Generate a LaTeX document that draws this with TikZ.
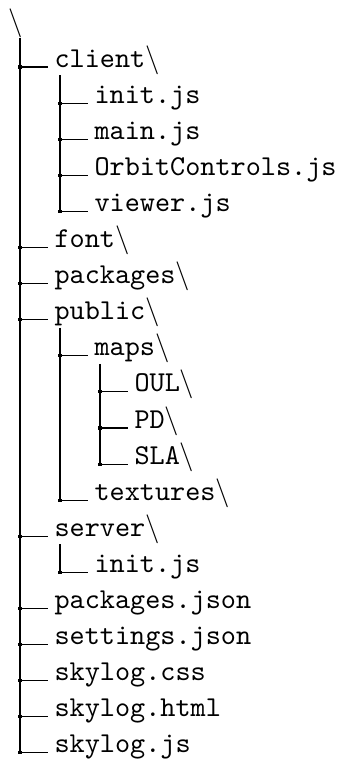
\documentclass[tikz,border=0pt]{standalone}
\usetikzlibrary{calc}
\begin{document}
% one unit = one pixel of the 341 x 762 layout grid (y grows downwards)
\begin{tikzpicture}[x=0.3472pt,y=-0.3472pt,
  entry/.style={anchor=base west,inner sep=0pt,font=\ttfamily},
  junction/.style={rectangle,fill=black,inner sep=0pt,minimum size=1.1pt},
  branch/.style={draw=black,line width=0.4pt}]
  \useasboundingbox (0,0) rectangle (341,762);

  % root folder
  \node[inner sep=0pt,anchor=base west] (root) at (8,30) {$\backslash$};

  % entries: name / depth / row / label
  \foreach \n/\l/\r/\t in {
      client/0/0/{client$\backslash$},
      cinit/1/1/{init.js},
      cmain/1/2/{main.js},
      corbit/1/3/{OrbitControls.js},
      cviewer/1/4/{viewer.js},
      font/0/5/{font$\backslash$},
      packages/0/6/{packages$\backslash$},
      public/0/7/{public$\backslash$},
      maps/1/8/{maps$\backslash$},
      oul/2/9/{OUL$\backslash$},
      pd/2/10/{PD$\backslash$},
      sla/2/11/{SLA$\backslash$},
      textures/1/12/{textures$\backslash$},
      server/0/13/{server$\backslash$},
      sinit/1/14/{init.js},
      pjson/0/15/{packages.json},
      sjson/0/16/{settings.json},
      css/0/17/{skylog.css},
      html/0/18/{skylog.html},
      js/0/19/{skylog.js}}{
    \pgfmathsetmacro{\vx}{20+40*\l}
    \pgfmathsetmacro{\vy}{67+36.1*\r}
    \node[junction] (j\n) at (\vx,\vy) {};
    \node[entry] (\n) at (\vx+34,\vy) {\t};
    \draw[branch] (j\n.center) -- ($(\n.base west)+(-6,0)$);
  }

  % vertical stems of each folder
  \draw[branch] (root.south -| jclient) -- (jjs.center);
  \draw[branch] ($(client.base -| jcinit)+(0,8)$) -- (jcviewer.center);
  \draw[branch] ($(public.base -| jmaps)+(0,8)$) -- (jtextures.center);
  \draw[branch] ($(maps.base -| joul)+(0,8)$) -- (jsla.center);
  \draw[branch] ($(server.base -| jsinit)+(0,8)$) -- (jsinit.center);
\end{tikzpicture}
\end{document}
